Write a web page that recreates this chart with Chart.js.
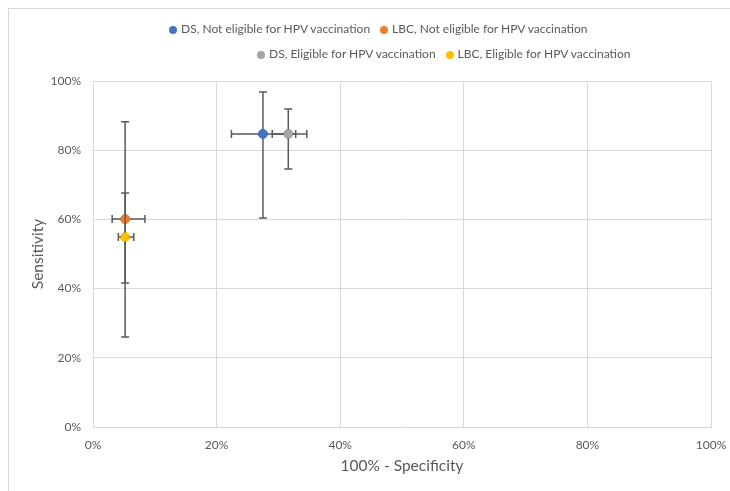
<!DOCTYPE html>
<html lang="en">
<head>
    <meta charset="UTF-8">
    <title>Sensitivity vs 100% - Specificity</title>
    <script src="https://cdn.jsdelivr.net/npm/chart.js@4.4.0/dist/chart.umd.min.js"></script>
    <style>
        html, body { margin: 0; padding: 0; background: #fff; overflow: hidden; }
        #frame { position: absolute; left: 8px; top: 8px; width: 760px; height: 520px; border: 1px solid #d9d9d9; }
        #wrap { position: absolute; left: 0; top: 0; width: 730px; height: 491px; }
        .row { position: absolute; display: flex; gap: 10px; font-family: Lato, sans-serif; font-size: 12px; color: #595959; white-space: nowrap; line-height: 14px; }
        .row span.dot { display: inline-block; width: 8px; height: 8px; border-radius: 50%; margin-right: 4px; vertical-align: -0.5px; }
    </style>
</head>
<body>
    <div id="frame"></div>
    <div id="wrap"><canvas id="chart" width="730" height="491"></canvas></div>
    <div id="legend"></div>
    <script>
        // series, values in percent
        const seriesNames = ['DS, Not eligible for HPV vaccination', 'LBC, Not eligible for HPV vaccination',
                             'DS, Eligible for HPV vaccination', 'LBC, Eligible for HPV vaccination'];
        const seriesColors = ['#4472C4', '#ED7D31', '#A5A5A5', '#FFC000'];

        const fpr     = [27.5, 5.2, 31.6, 5.2];   // 100% - specificity
        const fprLow  = [22.4, 3.1, 29.0, 4.1];
        const fprHigh = [32.8, 8.4, 34.6, 6.6];

        const sens     = [84.7, 60.1, 84.7, 54.9];
        const sensLow  = [60.4, 26.0, 74.6, 41.6];
        const sensHigh = [96.8, 88.2, 91.9, 67.6];

        const tickValues = [0, 20, 40, 60, 80, 100];

        // legend in two rows like the original
        const legendRows = [{ left: 169, top: 22, items: [0, 1] }, { left: 257, top: 47, items: [2, 3] }];
        const legend = document.getElementById('legend');
        legendRows.forEach(r => {
            const row = document.createElement('div');
            row.className = 'row';
            row.style.left = r.left + 'px';
            row.style.top = r.top + 'px';
            r.items.forEach(i => {
                const d = document.createElement('div');
                d.innerHTML = `<span class="dot" style="background:${seriesColors[i]}"></span>${seriesNames[i]}`;
                row.appendChild(d);
            });
            legend.appendChild(row);
        });

        const errorBars = {
            id: 'errorBars',
            afterDatasetsDraw(chart) {
                const ctx = chart.ctx;
                const xs = chart.scales.x, ys = chart.scales.y;
                const cap = 4;
                ctx.save();
                ctx.strokeStyle = '#5a5a5a';
                ctx.lineWidth = 1.5;
                for (let i = 0; i < seriesNames.length; i++) {
                    const cx = xs.getPixelForValue(fpr[i]);
                    const cy = ys.getPixelForValue(sens[i]);
                    const x1 = xs.getPixelForValue(fprLow[i]);
                    const x2 = xs.getPixelForValue(fprHigh[i]);
                    const y1 = ys.getPixelForValue(sensLow[i]);
                    const y2 = ys.getPixelForValue(sensHigh[i]);
                    ctx.beginPath();
                    ctx.moveTo(x1, cy); ctx.lineTo(x2, cy);
                    ctx.moveTo(x1, cy - cap); ctx.lineTo(x1, cy + cap);
                    ctx.moveTo(x2, cy - cap); ctx.lineTo(x2, cy + cap);
                    ctx.moveTo(cx, y1); ctx.lineTo(cx, y2);
                    ctx.moveTo(cx - cap, y1); ctx.lineTo(cx + cap, y1);
                    ctx.moveTo(cx - cap, y2); ctx.lineTo(cx + cap, y2);
                    ctx.stroke();
                    // marker on top
                    ctx.beginPath();
                    ctx.fillStyle = seriesColors[i];
                    ctx.arc(cx, cy, 4.5, 0, Math.PI * 2);
                    ctx.fill();
                }
                ctx.restore();
            }
        };

        const datasets = seriesNames.map((name, i) => ({
            label: name,
            data: [{ x: fpr[i], y: sens[i] }],
            backgroundColor: seriesColors[i],
            borderColor: seriesColors[i],
            pointRadius: 4.5,
            pointHoverRadius: 4.5
        }));

        const tickFont = { family: 'Lato, sans-serif', size: 12 };
        const titleFont = { family: 'Lato, sans-serif', size: 15.5 };

        new Chart(document.getElementById('chart').getContext('2d'), {
            type: 'scatter',
            data: { datasets: datasets },
            plugins: [errorBars],
            options: {
                responsive: false,
                animation: false,
                layout: { padding: { left: 0, top: 81, right: 19, bottom: 0 } },
                plugins: { legend: { display: false }, tooltip: { enabled: false } },
                scales: {
                    x: {
                        min: 0, max: 100,
                        afterBuildTicks: s => { s.ticks = tickValues.map(v => ({ value: v })); },
                        afterFit: s => { s.height = 64; s.paddingLeft = 0; s.paddingRight = 0; },
                        grid: { color: '#d9d9d9', drawTicks: false },
                        border: { color: '#d9d9d9' },
                        ticks: { padding: 11, color: '#595959', font: tickFont, callback: v => v + '%' },
                        title: { display: true, text: '100% - Specificity', color: '#595959', font: titleFont, padding: { top: 0, bottom: 16 } }
                    },
                    y: {
                        min: 0, max: 100,
                        afterBuildTicks: s => { s.ticks = tickValues.map(v => ({ value: v })); },
                        afterFit: s => { s.width = 93; s.paddingTop = 0; s.paddingBottom = 0; },
                        grid: { color: '#d9d9d9', drawTicks: false },
                        border: { color: '#d9d9d9' },
                        ticks: { padding: 12, color: '#595959', font: tickFont, callback: v => v + '%' },
                        title: { display: true, text: 'Sensitivity', color: '#595959', font: titleFont, padding: { top: 29, bottom: 0 } }
                    }
                }
            }
        });
    </script>
</body>
</html>
